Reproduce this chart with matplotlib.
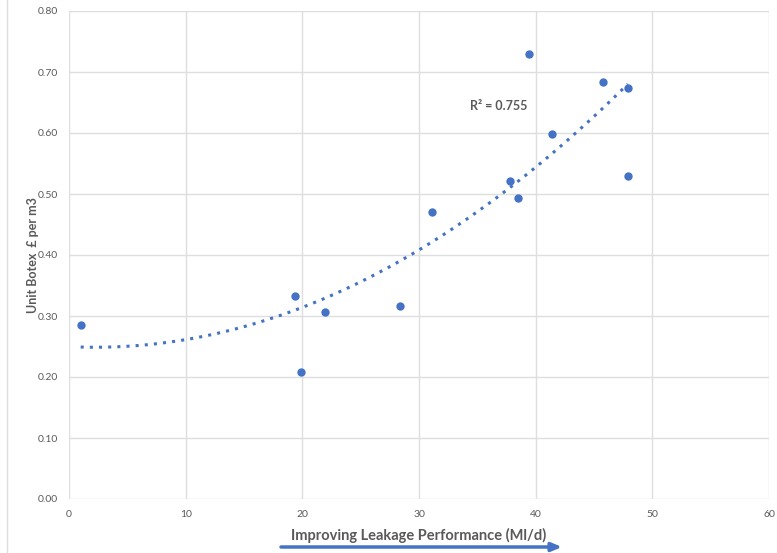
import numpy as np
import matplotlib
matplotlib.use("Agg")
import matplotlib.pyplot as plt
from matplotlib.lines import Line2D

# Leakage performance (Ml/d) vs unit botex (GBP per m3)
leakage = [1.0, 19.4, 19.9, 21.9, 28.4, 31.1, 37.8, 38.5, 39.4, 41.4, 45.8, 47.9, 47.9]
botex = [0.285, 0.332, 0.208, 0.307, 0.317, 0.471, 0.521, 0.493, 0.730, 0.598, 0.683, 0.673, 0.529]

x_ticks = [0, 10, 20, 30, 40, 50, 60]
y_ticks = [0.0, 0.1, 0.2, 0.3, 0.4, 0.5, 0.6, 0.7, 0.8]

blue = "#4472C4"
grid_col = "#DEDEDE"
text_col = "#595959"

plt.rcParams["font.family"] = ["Lato", "DejaVu Sans"]

fig = plt.figure(figsize=(7.77, 5.53), dpi=100)
ax = fig.add_axes([69 / 777, 54 / 553, 700 / 777, 488 / 553])

# 2nd order polynomial trendline, like Excel
coef = np.polyfit(leakage, botex, 2)
xs = np.linspace(min(leakage), max(leakage), 200)
ax.plot(xs, np.polyval(coef, xs), color=blue, linestyle=(0, (1, 2.0)), linewidth=2.2,
        zorder=2)

ax.scatter(leakage, botex, s=36, color=blue, zorder=3, linewidths=0)

ax.text(34.4, 0.645, "R² = 0.755", fontsize=9, fontweight="bold", color=text_col,
        va="center")

ax.set_xlim(0, 60)
ax.set_ylim(0, 0.8)
ax.set_xticks(x_ticks)
ax.set_yticks(y_ticks)
ax.set_yticklabels([f"{v:.2f}" for v in y_ticks])
ax.tick_params(length=0, labelsize=7.5, labelcolor=text_col, pad=8)
ax.grid(True, color=grid_col, linewidth=1)
ax.set_axisbelow(True)
for s in ax.spines.values():
    s.set_visible(False)

ax.set_xlabel("Improving Leakage Performance (Ml/d)", fontsize=10.5, fontweight="bold",
              color=text_col, labelpad=6)
ax.set_ylabel("Unit Botex  £ per m3", fontsize=9, fontweight="bold", color=text_col,
              labelpad=-1)

# arrow under x label
ax.annotate("", xy=(562 / 777, 1 - 547 / 553), xytext=(281 / 777, 1 - 547 / 553),
            xycoords="figure fraction", textcoords="figure fraction",
            arrowprops=dict(arrowstyle="-|>,head_length=0.6,head_width=0.25",
                            color=blue, lw=2.5, shrinkA=0, shrinkB=0))

# outer chart frame edge
fig.add_artist(Line2D([7 / 777, 7 / 777], [0.002, 1], color=grid_col, lw=1))

fig.savefig("out.png", dpi=100)
